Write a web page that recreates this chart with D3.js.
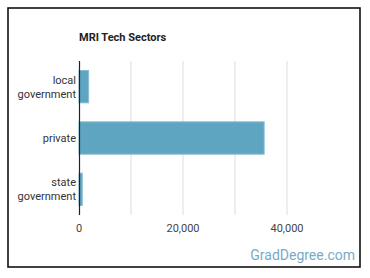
<!DOCTYPE html>
<html><head><meta charset="utf-8">
<script src="https://cdnjs.cloudflare.com/ajax/libs/d3/7.8.5/d3.min.js"></script>
<style>body{margin:0;background:#fff;}svg{display:block;font-family:Roboto,"Noto Sans",sans-serif;}</style>
</head><body>
<script>
const categories = ["local government", "private", "state government"];
const values = [1850, 35600, 620];
const tickValues = [0, 20000, 40000];
const gridValues = [10000, 20000, 30000, 40000];

const W = 370, H = 278;
const svg = d3.select("body").append("svg").attr("width", W).attr("height", H);
svg.append("rect").attr("x", 8).attr("y", 8).attr("width", 352).attr("height", 259)
  .attr("fill", "#fff").attr("stroke", "#111").attr("stroke-width", 1.6);

svg.append("text").attr("x", 79).attr("y", 41).text("MRI Tech Sectors")
  .attr("font-size", 11).attr("font-weight", "bold").attr("fill", "#222");

const x = d3.scaleLinear().domain([0, 50000]).range([79, 339]);
const y = d3.scaleBand().domain(categories).range([61, 215]).paddingInner(0.37).paddingOuter(0.185);

svg.append("g").selectAll("line").data(gridValues).join("line")
  .attr("x1", d => x(d)).attr("x2", d => x(d)).attr("y1", 61).attr("y2", 215)
  .attr("stroke", "#ddd").attr("stroke-width", 1);

svg.append("g").selectAll("rect").data(categories).join("rect")
  .attr("x", x(0)).attr("y", d => y(d))
  .attr("width", (d, i) => x(values[i]) - x(0)).attr("height", y.bandwidth())
  .attr("fill", "#5ea5c2").attr("stroke", "#86bcd3").attr("stroke-width", 1);

svg.append("line").attr("x1", 79.5).attr("x2", 79.5).attr("y1", 61).attr("y2", 215)
  .attr("stroke", "#222").attr("stroke-width", 1.2);

const lab = svg.append("g").selectAll("text").data(categories).join("text")
  .attr("text-anchor", "end").attr("font-size", 11).attr("fill", "#333");
lab.each(function(d) {
  const words = d.split(" ");
  const t = d3.select(this);
  const cy = y(d) + y.bandwidth() / 2;
  const n = words.length;
  words.forEach((w, i) => {
    t.append("tspan").attr("x", 76).attr("y", cy + (i - (n - 1) / 2) * 14 + 4).text(w);
  });
});

svg.append("g").selectAll("text").data(tickValues).join("text")
  .attr("x", d => x(d)).attr("y", 232).attr("text-anchor", "middle")
  .attr("font-size", 11).attr("fill", "#444").text(d => d3.format(",")(d));

svg.append("text").attr("x", 355).attr("y", 260).attr("text-anchor", "end")
  .attr("font-size", 14).attr("fill", "#7aaac6").text("GradDegree.com");
</script>
</body></html>
